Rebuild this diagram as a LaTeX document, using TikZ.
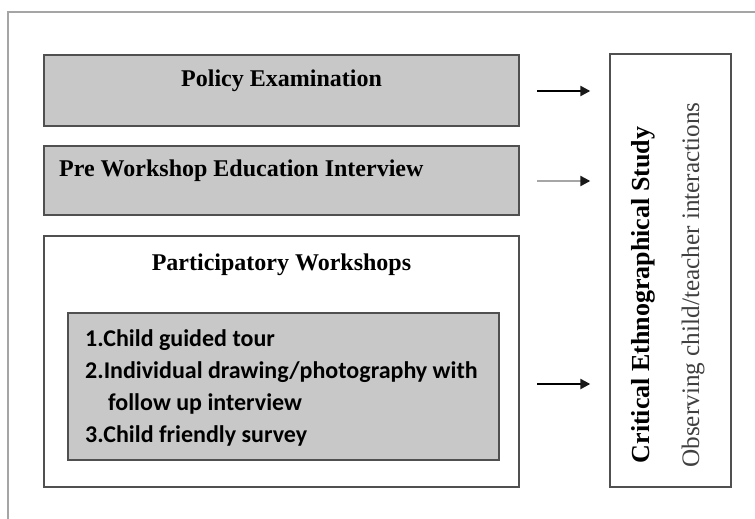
\documentclass[tikz,border=0pt]{standalone}
\usepackage{fontspec}
\setmainfont{Liberation Serif}
\newfontfamily\calfont{Carlito}
\usetikzlibrary{arrows.meta}
\definecolor{boxgray}{RGB}{200,200,200}
\definecolor{edgegray}{RGB}{80,80,80}
\definecolor{framegray}{RGB}{165,165,165}
\begin{document}
\begin{tikzpicture}[x=1pt,y=-1pt,
  graybox/.style={draw=edgegray,line width=1.6pt,fill=boxgray,inner sep=0pt,minimum width=#1},
  whitebox/.style={draw=edgegray,line width=1.4pt,fill=white,inner sep=0pt},
  title/.style={font=\fontsize{24}{28}\selectfont\bfseries,inner sep=0pt},
  arr/.style={-{Triangle[length=10pt,width=10pt,color=black!90]},line width=2.3pt}]
\useasboundingbox (0,0) rectangle (755,519);
\fill[white] (0,0) rectangle (755,519);
% outer frame (only left and top edges visible)
\draw[framegray,line width=2pt] (8,519) -- (8,12) -- (755,12);
% boxes
\node[graybox=475pt,minimum height=71pt] (b1) at (281.5,90.5) {};
\node[graybox=475pt,minimum height=69pt] (b2) at (281.5,180.5) {};
\node[whitebox,minimum width=475pt,minimum height=251pt] (b3) at (281.5,361.5) {};
\node[graybox=431pt,minimum height=147pt,line width=1.4pt] (inner) at (283.5,386.5) {};
\node[whitebox,minimum width=121pt,minimum height=433pt] (crit) at (670.5,270.5) {};
% texts
\node[title] (t1) at (281.5,81) {Policy Examination};
\node[title,anchor=west] (t2) at (59,171) {Pre Workshop Education Interview};
\node[title] (t3) at (281.5,265) {Participatory Workshops};
\node[anchor=north west,inner sep=0pt,align=left,
  font=\calfont\bfseries\fontsize{24}{32.3}\selectfont] (list) at (85,329)
  {1.Child guided tour\\
   2.Individual drawing/photography with\\
   \hspace*{23pt}follow up interview\\
   3.Child friendly survey};
\node[rotate=90,inner sep=0pt,font=\fontsize{26}{30}\selectfont\bfseries] (c1) at (643,295) {Critical Ethnographical Study};
\node[rotate=90,inner sep=0pt,font=\fontsize{25.2}{29}\selectfont,text=black!75] (c2) at (693,285) {Observing child/teacher interactions};
% arrows
\coordinate (a1s) at (537,91);
\coordinate (a2s) at (537,181);
\coordinate (a3s) at (537,384);
\draw[arr] (a1s) -- ([xshift=-19pt]a1s -| crit.west);
\draw[arr,draw=black!35] (a2s) -- ([xshift=-19pt]a2s -| crit.west);
\draw[arr] (a3s) -- ([xshift=-19pt]a3s -| crit.west);
\end{tikzpicture}
\end{document}
